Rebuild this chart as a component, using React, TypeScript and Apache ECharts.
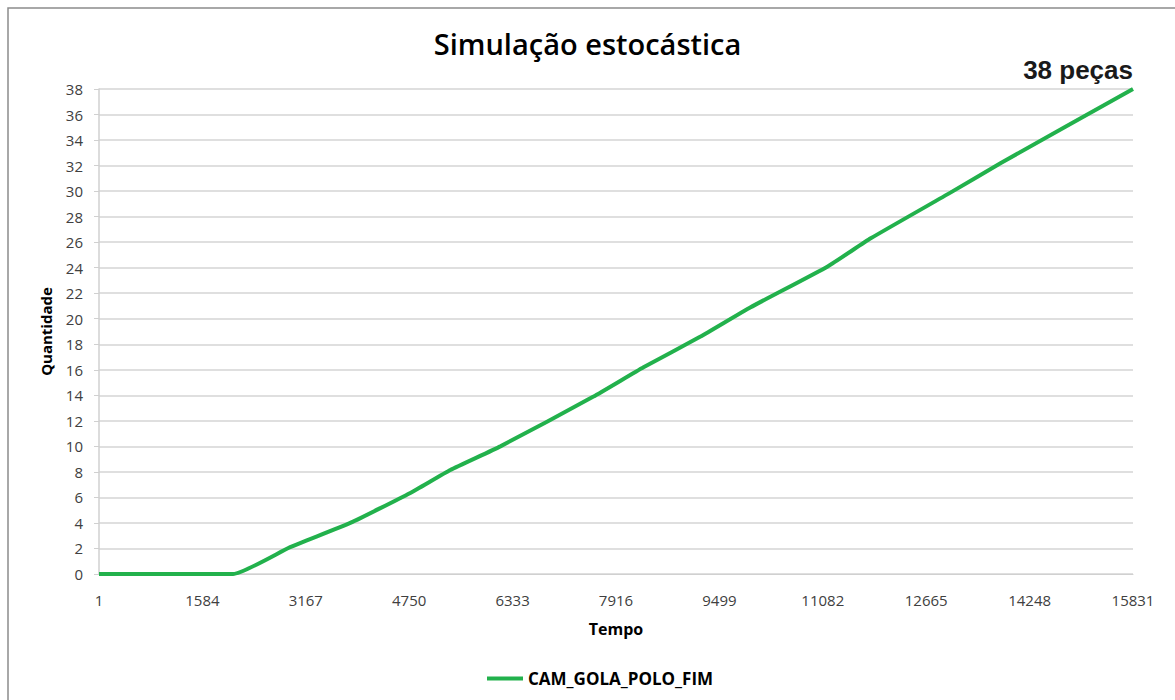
import React, { useEffect, useRef } from "react";
import * as echarts from "echarts";

const titleText = "Simulação estocástica";
const annotationText = "38 peças";
const seriesName = "CAM_GOLA_POLO_FIM";
const xAxisName = "Tempo";
const yAxisName = "Quantidade";

// time (simulation step) and quantity
const tempo = [1, 2054, 2928, 3847, 4767, 5380, 6146, 7571, 8337, 9210, 9977, 11157, 11816, 13042, 13808, 15831];
const quantidade = [0, 0, 2.1, 4.0, 6.35, 8.15, 10, 13.9, 16.2, 18.6, 20.9, 24.1, 26.3, 29.9, 32.2, 38];

const tempoStart = 1;
const tempoEnd = 15831;
const tempoStep = 1583;
const yMax = 38;
const yStep = 2;

export default function App() {
  const ref = useRef<HTMLDivElement>(null);
  useEffect(() => {
    document.body.style.margin = "0";
    if (!ref.current) return;
    const chart = echarts.init(ref.current, undefined, { renderer: "svg" });
    const data = tempo.map((t, i) => [t - tempoStart, quantidade[i]]);
    chart.setOption({
      animation: false,
      backgroundColor: "#ffffff",
      title: {
        text: titleText,
        left: "center",
        top: 24,
        textStyle: { fontFamily: "Open Sans", fontWeight: 600, fontSize: 29, color: "#000" },
      },
      graphic: [
        {
          type: "rect",
          shape: { x: 8, y: 8, width: 1250, height: 800 },
          style: { fill: "none", stroke: "#8c8c8c", lineWidth: 1.5 },
          silent: true,
        },
        {
          type: "text",
          right: 42,
          top: 57,
          style: {
            text: annotationText,
            fontFamily: "Liberation Sans",
            fontWeight: "bold",
            fontSize: 26,
            fill: "#1a1a1a",
          },
        },
      ],
      legend: {
        bottom: 8,
        left: 482,
        itemWidth: 36,
        itemHeight: 4,
        icon: "rect",
        textStyle: { fontFamily: "Open Sans", fontWeight: "bold", fontSize: 17, color: "#000" },
        data: [seriesName],
      },
      grid: { left: 99, right: 42, top: 89, bottom: 126, containLabel: false },
      xAxis: {
        type: "value",
        min: 0,
        max: tempoEnd - tempoStart,
        interval: tempoStep,
        name: xAxisName,
        nameLocation: "middle",
        nameGap: 47,
        nameTextStyle: { fontFamily: "Open Sans", fontWeight: "bold", fontSize: 16, color: "#000" },
        axisLine: { show: true, lineStyle: { color: "#d0d0d0", width: 1 } },
        axisTick: { show: false },
        splitLine: { show: false },
        axisLabel: {
          margin: 18,
          fontFamily: "Open Sans",
          fontSize: 15,
          color: "#404040",
          formatter: (v: number) => String(v + tempoStart),
        },
      },
      yAxis: {
        type: "value",
        min: 0,
        max: yMax,
        interval: yStep,
        name: yAxisName,
        nameLocation: "middle",
        nameGap: 46,
        nameRotate: 90,
        nameTextStyle: { fontFamily: "Open Sans", fontWeight: "bold", fontSize: 15, color: "#000" },
        axisLine: { show: true, lineStyle: { color: "#d0d0d0", width: 1.5 } },
        axisTick: { show: true, length: 5, lineStyle: { color: "#d0d0d0" } },
        splitLine: { show: true, lineStyle: { color: "#d4d4d4", width: 1.5 } },
        axisLabel: { margin: 16, fontFamily: "Open Sans", fontSize: 15, color: "#404040" },
      },
      series: [
        {
          name: seriesName,
          type: "line",
          data,
          showSymbol: false,
          smooth: 0.15,
          lineStyle: { color: "#22b14c", width: 4 },
          itemStyle: { color: "#22b14c" },
        },
      ],
    });
    return () => chart.dispose();
  }, []);
  return <div ref={ref} style={{ width: 1175, height: 700 }} />;
}
